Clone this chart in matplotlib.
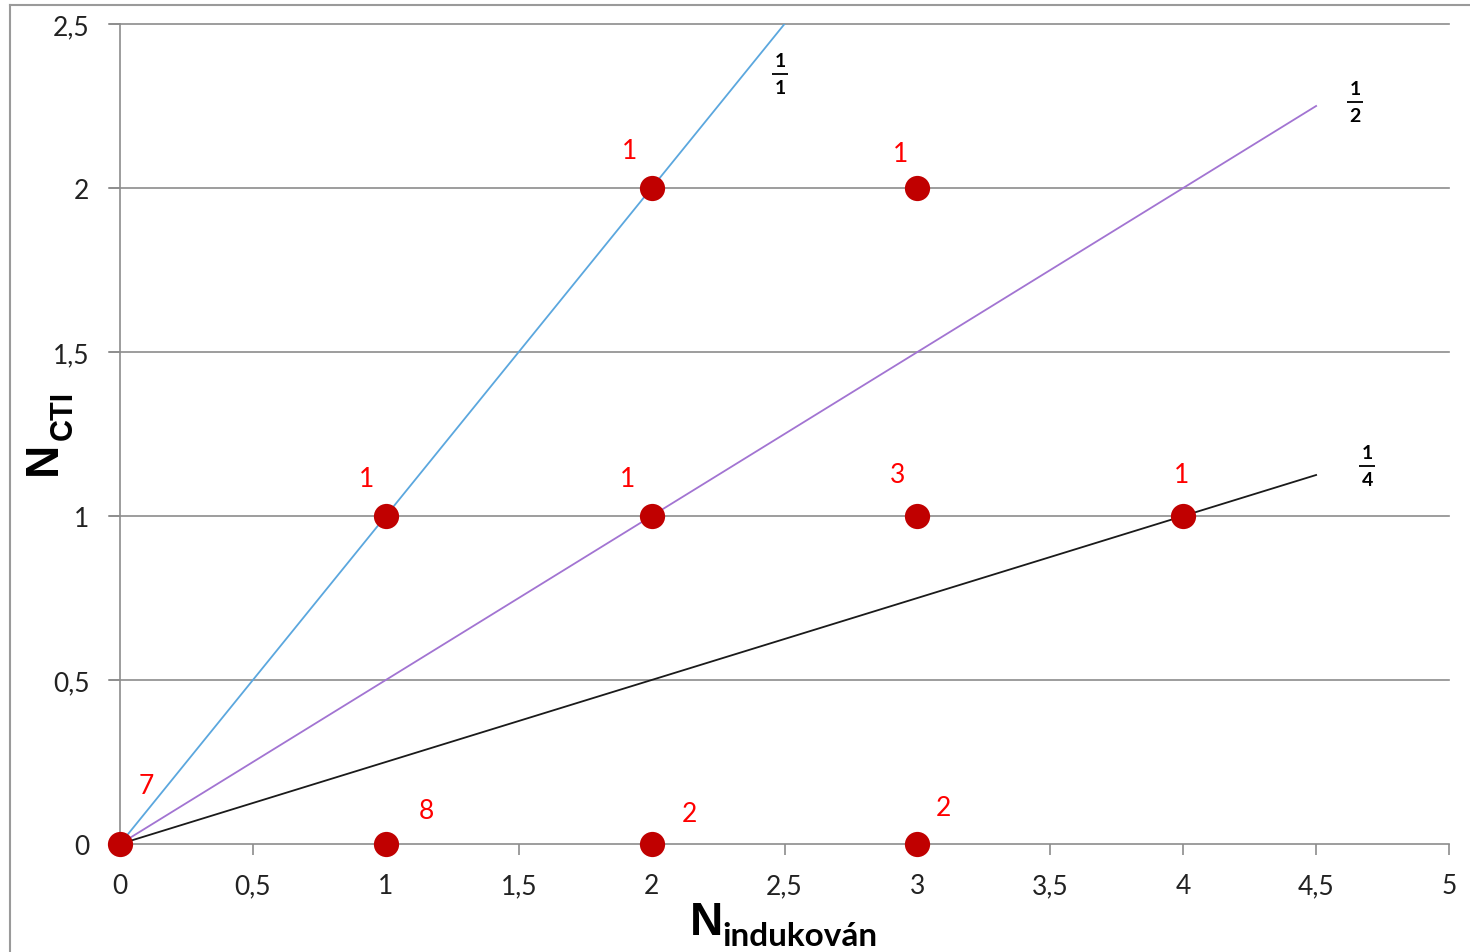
import numpy as np
import matplotlib.pyplot as plt
from matplotlib.lines import Line2D

# counts of observations per (N_indukovan, N_CTI) point
pt_x = [0, 1, 2, 3, 1, 2, 3, 4, 2, 3]
pt_y = [0, 0, 0, 0, 1, 1, 1, 1, 2, 2]
pt_count = [7, 8, 2, 2, 1, 1, 3, 1, 1, 1]
# label offsets (points) as placed in the original
lab_dx = [19, 29, 27, 19, -14, -17, -14, -1, -16, -12]
lab_dy = [42, 24, 22, 26, 27, 27, 30, 30, 27, 25]

# reference ratio lines: slope, end x, label
ratio_slope = [1.0, 0.5, 0.25]
ratio_end = [2.5, 4.5, 4.5]
ratio_num = ['1', '1', '1']
ratio_den = ['1', '2', '4']
ratio_color = ['#5BA7DE', '#A274D2', '#1a1a1a']

xticks = np.arange(0, 5.01, 0.5)
yticks = np.arange(0, 2.51, 0.5)

plt.rcParams['font.family'] = ['Lato', 'DejaVu Sans']

fig = plt.figure(figsize=(14.7, 9.53), dpi=100)
ax = fig.add_axes([120 / 1470, 108 / 953, 1329 / 1470, 820 / 953])
ax.set_xlim(0, 5)
ax.set_ylim(0, 2.5)

grid_c = '#8c8c8c'
for yv in yticks[1:]:
    ax.axhline(yv, color=grid_c, lw=1.2, zorder=1, xmin=-0.008, clip_on=False)

for s, e, c in zip(ratio_slope, ratio_end, ratio_color):
    xs = np.array([0, e])
    ax.plot(xs, s * xs, color=c, lw=1.3, zorder=2)

# fraction labels
frac_pos = [(2.483, 2.348), (4.646, 2.262), (4.692, 1.152)]
for (fx, fy), n, d in zip(frac_pos, ratio_num, ratio_den):
    ax.plot([fx], [fy], marker='_', markersize=11, mew=1.4, color='#111111', clip_on=False)
    ax.annotate(n, (fx, fy), xytext=(0, 3.5), textcoords='offset points',
                ha='center', va='bottom', fontsize=14, fontweight='bold')
    ax.annotate(d, (fx, fy), xytext=(0, -3.5), textcoords='offset points',
                ha='center', va='top', fontsize=14, fontweight='bold')

ax.scatter(pt_x, pt_y, s=330, color='#C00000', zorder=4, clip_on=False, linewidths=0)
for x, y, c, dx, dy in zip(pt_x, pt_y, pt_count, lab_dx, lab_dy):
    ax.annotate(str(c), (x, y), xytext=(dx, dy), textcoords='offset points',
                ha='center', va='center', color='red', fontsize=19)

ax.set_xticks(xticks)
ax.set_yticks(yticks)
fmt = lambda v: ('%g' % v).replace('.', ',')
ax.set_xticklabels([fmt(v) for v in xticks], fontsize=19, color='#222222')
ax.set_yticklabels([fmt(v) for v in yticks], fontsize=19, color='#222222')
ax.tick_params(axis='both', direction='out', length=8, width=1.2, color=grid_c)
ax.tick_params(axis='x', pad=13)
ax.tick_params(axis='y', pad=14)
for sp in ['top', 'right']:
    ax.spines[sp].set_visible(False)
for sp in ['left', 'bottom']:
    ax.spines[sp].set_color(grid_c)
    ax.spines[sp].set_linewidth(1.2)

# axis titles with subscripts
fig.text(690 / 1470, (953 - 935) / 953, 'N', fontsize=33, fontweight='bold',
         family='Liberation Sans', ha='left', va='baseline')
fig.text(722 / 1470, (953 - 946) / 953, 'indukován', fontsize=24, fontweight='bold',
         ha='left', va='baseline')
fig.text(66 / 1470, (953 - 475) / 953, 'N', fontsize=33, fontweight='bold',
         family='Liberation Sans', rotation=90, ha='right', va='bottom')
fig.text(79 / 1470, (953 - 440) / 953, 'CTI', fontsize=22, fontweight='bold',
         family='Liberation Sans', rotation=90, ha='right', va='bottom')

# outer chart frame
fig.add_artist(Line2D([10 / 1470, 10 / 1470], [0, 947 / 953], color='#9a9a9a', lw=1.5))
fig.add_artist(Line2D([10 / 1470, 1], [947 / 953, 947 / 953], color='#9a9a9a', lw=1.5))

fig.savefig('out.png', dpi=100)
